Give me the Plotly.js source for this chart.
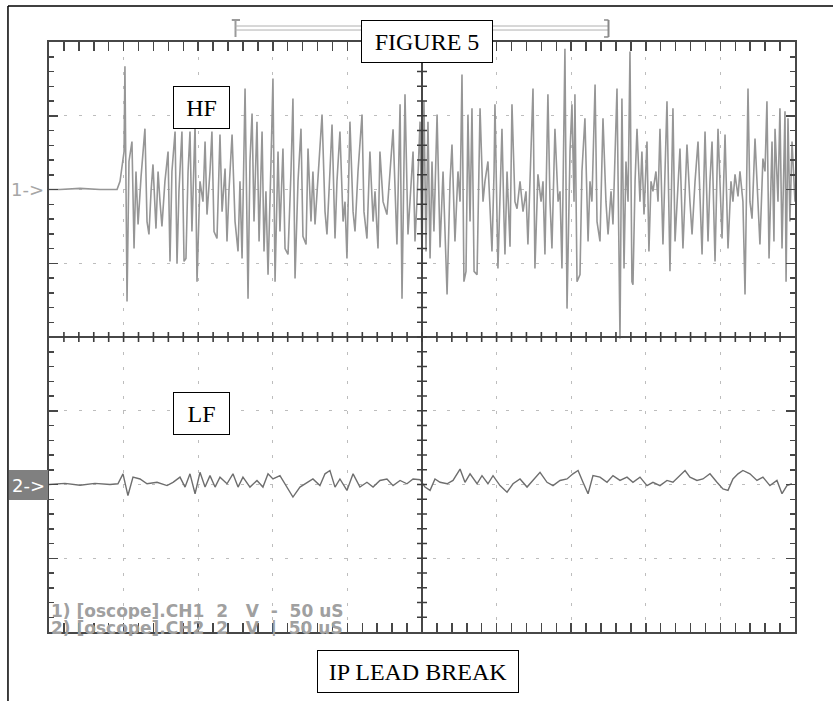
<!DOCTYPE html>
<html>
<head>
<meta charset="utf-8">
<script src="https://cdn.plot.ly/plotly-3.0.1.min.js"></script>
<style>html,body{margin:0;padding:0;background:#fff;}#chart{width:833px;height:701px;}</style>
</head>
<body>
<div id="chart"></div>
<script>
// Channel 1 (HF): time in microseconds, voltage in volts (2 V/div, 50 uS/div)
const hfTime = [0,7.4,20.8,34.2,45.6,47.6,50.3,50.9,52.3,53.6,55.6,57.0,58.3,59.7,61.7,64.3,65.7,67.0,68.4,69.7,71.7,73.1,74.4,75.7,77.7,79.8,81.1,82.4,84.5,85.8,87.1,89.1,90.5,91.8,93.2,94.5,95.8,97.9,99.2,101.2,103.2,104.6,105.9,107.9,109.2,110.6,112.6,113.9,114.6,116.0,118.0,119.3,120.6,122.7,124.7,126.7,128.0,129.4,131.4,133.4,134.7,136.1,137.4,139.4,140.8,142.8,144.1,145.4,146.8,148.8,150.1,151.5,153.5,154.8,156.8,158.2,160.2,162.2,163.5,164.9,166.9,168.9,170.2,172.3,173.6,175.6,176.9,178.3,180.3,183.0,185.0,186.3,188.3,189.7,191.7,193.0,195.0,197.1,198.4,199.7,201.7,203.8,205.1,207.1,209.8,211.1,213.1,215.1,217.2,218.5,220.5,221.8,223.9,226.5,228.6,230.6,233.2,235.3,236.6,238.6,240.6,242.6,244.0,245.3,246.6,248.7,250.0,251.3,252.7,254.0,255.4,256.7,258.0,260.1,262.1,264.1,265.4,266.8,268.8,270.1,272.1,274.1,275.5,276.8,278.1,279.5,280.8,282.2,283.5,284.9,286.9,288.2,288.9,290.9,292.2,294.2,295.6,296.9,298.3,298.9,300.9,302.3,303.6,305.0,305.6,307.0,309.0,310.3,312.3,313.7,315.7,317.7,319.7,321.0,322.4,324.4,325.7,327.7,329.8,331.1,332.4,334.4,335.8,337.1,339.1,341.2,342.5,343.8,345.8,347.2,349.2,350.5,351.9,352.5,353.9,355.9,357.2,359.2,361.3,362.6,363.9,366.0,367.3,369.3,371.3,373.3,374.7,376.7,378.0,379.4,380.7,382.7,384.0,385.4,386.7,388.1,389.4,390.7,391.4,392.8,394.1,396.1,397.4,398.8,400.8,402.1,403.5,404.8,406.8,408.2,409.5,411.5,414.2,416.2,418.2,419.6,421.6,422.9,424.9,427.6,429.6,431.0,433.0,435.0,437.7,439.7,441.7,443.0,444.4,446.4,448.4,451.1,453.1,455.1,457.1,458.4,459.8,461.8,463.1,465.1,466.5,468.5,469.8,471.2,473.2,476.5,478.5,479.9,481.2,482.6,484.6,485.9,486.6,488.6,489.9,491.3,493.3,494.0,495.3,496.6,498.0,500.0];
const hfVolts = [0,0,0.03,0,0,0.22,1.03,3.34,-3.04,0.76,1.30,-1.60,0.49,-0.95,0.35,1.65,-0.87,-1.22,-0.05,0.68,-1.06,0.49,-0.33,-1.00,0.22,1.03,-1.95,0.49,1.57,-2.01,-0.05,1.57,-1.95,-1.87,0.49,1.57,-1.14,1.76,-2.50,0.22,-0.33,1.30,-0.68,0.49,1.57,-1.14,-1.33,0.49,1.49,-0.60,0.57,-1.41,-0.05,1.49,-0.87,-1.68,0.22,-1.87,2.74,-2.96,0.76,2.06,-0.87,1.84,-1.41,1.57,-1.68,-0.05,-2.31,0.76,3.01,-2.50,1.03,-1.14,1.11,-1.60,-1.76,0.49,2.47,-2.41,0.22,1.65,-1.27,-1.49,1.11,-0.87,0.49,-0.95,0.22,2.03,-0.60,-1.22,0.49,1.76,-1.33,0.22,1.57,-0.87,-0.33,-1.87,1.84,-0.60,-1.14,0.49,2.03,-0.60,-1.33,1.03,-0.87,-0.05,-1.60,1.03,-0.33,-0.68,0.49,1.63,-1.49,2.31,-2.96,2.58,-1.22,0.22,1.03,-1.41,-0.33,1.84,-1.87,2.39,-1.68,1.84,-1.87,0.76,-1.14,2.03,-1.57,0.49,-0.87,-2.85,0.22,1.22,-1.41,0.49,-0.33,3.12,-2.50,-2.22,2.03,-0.87,2.20,-2.22,-2.31,0.76,2.20,-0.33,0.22,0.76,-0.33,-1.68,0.49,2.31,-2.14,0.22,1.65,-0.87,-1.76,0.49,-1.55,2.31,-0.33,-0.52,0.22,-0.60,-0.05,-1.49,0.49,2.74,-2.14,0.41,-0.33,0.22,-1.76,2.58,-0.33,-1.60,1.65,-0.33,-0.05,-2.14,3.82,-3.23,1.03,2.31,-0.33,2.58,-2.50,-2.31,0.49,1.93,-1.41,0.22,-0.33,2.85,-0.87,-1.41,1.93,-0.33,-1.22,-0.05,-0.95,0.76,2.74,-4.04,2.47,-2.14,0.76,-0.33,3.74,-2.50,-2.58,0.22,1.65,-0.33,1.03,-0.68,1.30,-1.68,0.22,-0.05,0.49,-0.33,1.65,-1.49,2.39,-2.22,2.20,-1.41,0.22,1.11,-1.60,1.22,-0.33,-1.22,0.22,1.30,-1.76,1.57,-1.41,0.22,1.30,-1.95,1.65,-1.33,1.49,-1.60,0.22,-0.33,0.41,-0.19,0.49,-0.33,-2.85,2.74,-0.33,-0.79,1.38,-1.49,0.84,0.49,2.39,-1.87,1.30,-1.41,1.65,-0.33,2.20,-1.60,2.12,-2.50,1.93,-0.87,1.30,-0.33];

// Channel 2 (LF)
const lfTime = [0,10.7,20.8,30.8,40.9,46.2,49.6,52.9,56.3,61.0,65.7,72.4,79.1,83.1,87.8,91.2,94.5,97.9,101.2,104.6,107.9,111.3,114.6,119.3,123.3,126.7,130.0,134.7,139.4,143.4,146.8,150.1,154.8,159.5,163.5,168.2,172.9,176.9,181.6,185.0,188.3,191.7,195.0,199.7,203.8,208.4,213.1,217.2,221.8,226.5,230.6,235.3,239.9,244.0,248.7,252.0,255.4,258.7,262.1,266.8,270.8,275.5,278.8,282.2,286.9,290.2,294.2,297.6,302.3,307.0,311.0,315.7,320.4,324.4,329.1,333.8,337.8,342.5,347.2,351.2,354.6,357.9,361.3,364.6,369.3,374.0,378.0,382.7,387.4,391.4,396.1,400.8,404.8,409.5,414.2,418.2,422.9,426.3,429.6,434.3,438.3,443.0,447.7,451.7,455.1,458.4,461.8,465.1,469.8,474.5,478.5,483.2,487.9,491.3,494.6,497.9];
const lfVolts = [0,0.03,-0.02,0.03,0,0.02,0.29,-0.30,0.20,0.15,0.02,0.06,-0.03,0.06,0.20,-0.07,0.29,-0.25,0.33,-0.07,0.24,-0.07,0.20,0.02,0.29,-0.07,0.20,-0.07,0.11,-0.07,0.29,0.15,0.24,-0.07,-0.34,-0.07,0.06,0.15,-0.03,0.29,0.38,-0.07,0.15,-0.16,0.29,-0.07,0.06,-0.07,0.11,0.15,-0.03,0.11,0.02,0.15,0.13,-0.07,-0.16,0.15,0.06,0.02,0.11,0.42,0.06,0.29,0.02,0.24,0.02,0.24,-0.03,-0.21,0.02,0.15,-0.07,0.11,0.33,0.06,-0.03,0.11,0.15,0.29,0.38,0.06,-0.25,0.24,0.20,0.06,0.24,0.11,0.20,0.06,0.20,-0.03,0.06,-0.03,0.11,0.06,0.24,0.38,0.20,0.11,0.15,0.29,0.06,-0.12,-0.16,0.15,0.29,0.38,0.29,0.11,0.20,-0.03,0.11,-0.25,-0.03,0.02];

// Screen settings
const timeRange = [0, 500];      // 10 div x 50 uS
const timeMinor = 10;            // 5 minor ticks per division
const ch1Range = [-12, 4];       // 8 div x 2 V, CH1 ground 2 div below top
const ch1Minor = 0.4;
const ch2Range = [-4, 12];       // 8 div x 2 V, CH2 ground 2 div above bottom
const triggerWindow = [125, 375];
const scopeLines = ["1)&nbsp;[oscope].CH1&nbsp;&nbsp;2&nbsp;&nbsp;&nbsp;V&nbsp;&nbsp;-&nbsp;&nbsp;50&nbsp;uS",
                    "2)&nbsp;[oscope].CH2&nbsp;&nbsp;2&nbsp;&nbsp;&nbsp;V&nbsp;&nbsp;|&nbsp;&nbsp;50&nbsp;uS"];

const frameCol = '#474747';
const gridCol = '#bdbdbd';

const traces = [
  {x: hfTime, y: hfVolts, type: 'scatter', mode: 'lines', xaxis: 'x', yaxis: 'y',
   line: {color: '#969696', width: 1.6}, hoverinfo: 'skip'},
  {x: lfTime, y: lfVolts, type: 'scatter', mode: 'lines', xaxis: 'x', yaxis: 'y2',
   line: {color: '#6e6e6e', width: 1.4}, hoverinfo: 'skip'}
];

// center cross (graticule axes) with small tick marks, in paper units (5 per division)
const tickHalfY = 5 / 590;
const tickHalfX = 5 / 746;
let hTicks = '';
for (let k = 1; k < 50; k++) {
  const p = k / 50;
  hTicks += 'M' + p + ',' + (0.5 - tickHalfY) + 'L' + p + ',' + (0.5 + tickHalfY);
}
let vTicks = '';
for (let k = 1; k < 40; k++) {
  const p = k / 40;
  vTicks += 'M' + (0.5 - tickHalfX) + ',' + p + 'L' + (0.5 + tickHalfX) + ',' + p;
}

const shapes = [
  {type: 'line', xref: 'paper', yref: 'paper', x0: 0, x1: 1, y0: 0.5, y1: 0.5, line: {color: frameCol, width: 2}},
  {type: 'line', xref: 'paper', yref: 'paper', x0: 0.5, x1: 0.5, y0: 0, y1: 1, line: {color: frameCol, width: 2}},
  {type: 'path', xref: 'paper', yref: 'paper', path: hTicks, line: {color: '#3c3c3c', width: 1.6}},
  {type: 'path', xref: 'paper', yref: 'paper', path: vTicks, line: {color: '#3c3c3c', width: 1.6}},
  // outer frame (left and top)
  {type: 'line', xref: 'paper', yref: 'paper', x0: -0.0550, x1: -0.0550, y0: 1.061, y1: -0.14, line: {color: '#000', width: 1.5}},
  {type: 'line', xref: 'paper', yref: 'paper', x0: -0.0550, x1: 1.06, y0: 1.061, y1: 1.061, line: {color: '#000', width: 1.5}},
  // trigger window bracket
  {type: 'line', xref: 'x', yref: 'paper', x0: triggerWindow[0], x1: triggerWindow[0], y0: 1.0085, y1: 1.0373, line: {color: '#9a9a9a', width: 2}},
  {type: 'line', xref: 'x', yref: 'paper', x0: triggerWindow[0] - 2.5, x1: triggerWindow[0] + 3, y0: 1.0373, y1: 1.0373, line: {color: '#9a9a9a', width: 2}},
  {type: 'line', xref: 'x', yref: 'paper', x0: triggerWindow[0], x1: triggerWindow[1], y0: 1.0271, y1: 1.0271, line: {color: '#b0b0b0', width: 1}},
  {type: 'line', xref: 'x', yref: 'paper', x0: triggerWindow[0], x1: triggerWindow[1], y0: 1.0203, y1: 1.0203, line: {color: '#b0b0b0', width: 1}},
  {type: 'line', xref: 'x', yref: 'paper', x0: triggerWindow[1], x1: triggerWindow[1], y0: 1.0085, y1: 1.0373, line: {color: '#8a8a8a', width: 2}},
  {type: 'line', xref: 'x', yref: 'paper', x0: triggerWindow[1] - 3, x1: triggerWindow[1], y0: 1.0373, y1: 1.0373, line: {color: '#8a8a8a', width: 1.5}},
  {type: 'line', xref: 'x', yref: 'paper', x0: triggerWindow[1] - 3, x1: triggerWindow[1], y0: 1.0085, y1: 1.0085, line: {color: '#8a8a8a', width: 1.5}}
];

const serif = {family: 'Liberation Serif, Times New Roman, serif', size: 24, color: '#000'};
function boxLabel(text, x, y, w) {
  return {text: text, xref: 'paper', yref: 'paper', x: x, y: y, xanchor: 'center', yanchor: 'middle',
          showarrow: false, width: w, height: 41, bgcolor: '#fff', bordercolor: '#000', borderwidth: 1,
          borderpad: 0, font: serif};
}
const scopeFont = {family: 'DejaVu Sans, sans-serif', size: 17, color: '#a0a0a0', weight: 'bold'};

const layout = {
  width: 833, height: 701,
  margin: {l: 49, r: 38, t: 42, b: 69, pad: 0},
  paper_bgcolor: '#ffffff', plot_bgcolor: '#ffffff',
  showlegend: false,
  xaxis: {
    range: timeRange, dtick: 50, tick0: 0, ticks: 'inside', ticklen: 9, tickwidth: 1.5,
    tickcolor: frameCol, mirror: 'allticks', showline: true, linecolor: frameCol, linewidth: 2,
    showticklabels: false, zeroline: false, showgrid: true, gridcolor: gridCol, gridwidth: 1,
    griddash: '3px,11.75px',
    minor: {dtick: timeMinor, tick0: 0, ticks: 'inside', ticklen: 5, tickwidth: 1.5, tickcolor: frameCol, showgrid: false},
    fixedrange: true
  },
  yaxis: {
    range: ch1Range, dtick: 2, tick0: 0, ticks: 'inside', ticklen: 9, tickwidth: 1.5,
    tickcolor: frameCol, mirror: 'allticks', showline: true, linecolor: frameCol, linewidth: 2,
    showticklabels: false, zeroline: false, showgrid: true, gridcolor: gridCol, gridwidth: 1,
    griddash: '3px,11.75px',
    minor: {dtick: ch1Minor, tick0: 0, ticks: 'inside', ticklen: 5, tickwidth: 1.5, tickcolor: frameCol, showgrid: false},
    fixedrange: true
  },
  yaxis2: {
    range: ch2Range, overlaying: 'y', showline: false, showgrid: false, zeroline: false,
    showticklabels: false, ticks: '', fixedrange: true
  },
  shapes: shapes,
  annotations: [
    boxLabel('FIGURE 5', 0.5067, 1.0008, 130),
    boxLabel('HF', 0.2044, 0.889, 55),
    boxLabel('LF', 0.2044, 0.3703, 55),
    boxLabel('IP LEAD BREAK', 0.4946, -0.0669, 200),
    {text: '1-&gt;', xref: 'paper', yref: 'y', x: -0.0285, y: 0, xanchor: 'center', yanchor: 'middle',
     showarrow: false, font: {family: 'DejaVu Sans, sans-serif', size: 18, color: '#a6a6a6'}},
    {text: '2-&gt;', xref: 'paper', yref: 'y2', x: -0.0275, y: 0, xanchor: 'center', yanchor: 'middle',
     showarrow: false, width: 39, height: 30, bgcolor: '#808080', borderpad: 0, borderwidth: 0,
     font: {family: 'DejaVu Sans, sans-serif', size: 18, color: '#ffffff'}},
    {text: scopeLines[0], xref: 'paper', yref: 'paper', x: 0.0, y: 0.0356, xanchor: 'left', yanchor: 'middle',
     showarrow: false, height: 16, font: scopeFont},
    {text: scopeLines[1], xref: 'paper', yref: 'paper', x: 0.0, y: 0.0068, xanchor: 'left', yanchor: 'middle',
     showarrow: false, height: 16, font: scopeFont}
  ]
};

Plotly.newPlot('chart', traces, layout, {staticPlot: true, displayModeBar: false});
</script>
</body>
</html>
